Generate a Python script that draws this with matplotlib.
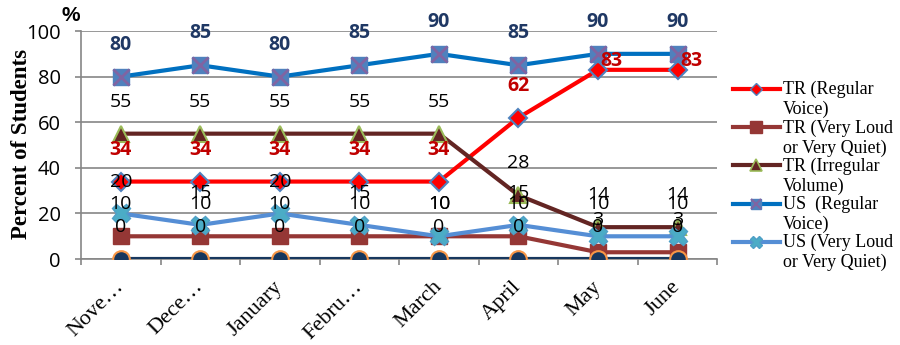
import numpy as np
import matplotlib
matplotlib.use("Agg")
import matplotlib.pyplot as plt
from matplotlib.lines import Line2D
from matplotlib.legend_handler import HandlerLine2D
from matplotlib.transforms import ScaledTranslation

# monthly percentages per group
months = ["Nove…", "Dece…", "January", "Febru…", "March", "April", "May", "June"]
tr_regular = [34, 34, 34, 34, 34, 62, 83, 83]
tr_loud_quiet = [10, 10, 10, 10, 10, 10, 3, 3]
tr_irregular = [55, 55, 55, 55, 55, 28, 14, 14]
us_regular = [80, 85, 80, 85, 90, 85, 90, 90]
us_loud_quiet = [20, 15, 20, 15, 10, 15, 10, 10]
us_irregular = [0, 0, 0, 0, 0, 0, 0, 0]

legend_labels = [
    "TR (Regular\nVoice)",
    "TR (Very Loud\nor Very Quiet)",
    "TR (Irregular\nVolume)",
    "US  (Regular\nVoice)",
    "US (Very Loud\nor Very Quiet)",
]

SERIF = "Liberation Serif"
SANS = "Open Sans"
GRID = "#868686"


class FirstLineHandler(HandlerLine2D):
    # put the legend line next to the first line of a two-line label
    def create_artists(self, legend, orig_handle, xdescent, ydescent,
                       width, height, fontsize, trans):
        return super().create_artists(legend, orig_handle, xdescent,
                                      ydescent - 1.2 * fontsize,
                                      width, height, fontsize, trans)


fig = plt.figure(figsize=(9, 3.45), dpi=100)
ax = fig.add_axes([0.09, 0.249, 0.707, 0.661])
x = np.arange(len(months))

ax.plot(x, tr_regular, color="#FF0000", lw=3, marker="D", ms=9,
        mfc="#FF0000", mec="#4F81BD", mew=1.5, zorder=3)
ax.plot(x, tr_loud_quiet, color="#953735", lw=3, marker="s", ms=12,
        mfc="#953735", mec="#953735", zorder=3)
ax.plot(x, tr_irregular, color="#632523", lw=3, marker="^", ms=12,
        mfc="#632523", mec="#9BBB59", mew=1.5, zorder=3)
ax.plot(x, us_regular, color="#0070C0", lw=3, marker="s", ms=12,
        mfc="#4F81BD", mec="#4F81BD", zorder=3)
ax.plot(x, us_regular, ls="none", marker="x", ms=11, mew=2,
        color="#8064A2", zorder=3)
ax.plot(x, us_loud_quiet, color="#558ED5", lw=3, marker="X", ms=13,
        mfc="#4BACC6", mec="#4F9FC6", zorder=3)
ax.plot(x, us_irregular, color="#17375E", lw=3, marker="o", ms=12,
        mfc="#17375E", mec="#F79646", mew=1.5, zorder=3)

# value labels above each point
def put_labels(values, color, weight="normal", dx=0, dy=23):
    for xi, v in zip(x, values):
        ax.annotate(str(v), (xi, v), xytext=(dx, dy), textcoords="offset points",
                    ha="center", va="center", fontsize=14, family=SANS,
                    color=color, fontweight=weight, zorder=10,
                    annotation_clip=False)

put_labels(tr_regular[:6], "#C00000", "bold")
for xi in range(6, 8):
    ax.annotate(str(tr_regular[xi]), (xi, tr_regular[xi]), xytext=(10, 6),
                textcoords="offset points", ha="center", va="center",
                fontsize=14, family=SANS, color="#C00000", fontweight="bold",
                zorder=10)
put_labels(tr_loud_quiet, "black")
put_labels(tr_irregular, "black")
put_labels(us_regular, "#1F3864", "bold")
put_labels(us_loud_quiet, "black")
put_labels(us_irregular, "black")

ax.set_xlim(-0.5, 7.5)
ax.set_ylim(0, 100)
ax.set_yticks(range(0, 101, 20))
ax.set_xticks(x)
ax.set_xticklabels(months, rotation=45, ha="right", va="center",
                   rotation_mode="anchor", family=SERIF, fontsize=16)
# shortened month names sit a bit further right
for lbl in ax.get_xticklabels():
    if "…" in lbl.get_text():
        lbl.set_transform(lbl.get_transform()
                          + ScaledTranslation(10 / 72, -2 / 72, fig.dpi_scale_trans))
ax.set_xticks(np.arange(-0.5, 8, 1), minor=True)
ax.tick_params(axis="x", which="major", length=0, pad=18)
ax.tick_params(axis="x", which="minor", length=4.5, width=1.2, color=GRID)
ax.tick_params(axis="y", length=4.5, width=1.2, color=GRID, pad=10,
               labelsize=14.5)
for lbl in ax.get_yticklabels():
    lbl.set_family(SANS)

ax.yaxis.grid(True, color=GRID, lw=1.2)
ax.set_axisbelow(True)
for side in ("top", "right"):
    ax.spines[side].set_visible(False)
for side in ("left", "bottom"):
    ax.spines[side].set_color(GRID)
    ax.spines[side].set_linewidth(1.2)

ax.set_ylabel("Percent of Students", family=SERIF, fontweight="bold", fontsize=16.5)
ax.yaxis.set_label_coords(-0.077, 0.504)
fig.text(0.079, 0.954, "%", ha="center", va="center", fontsize=15,
         fontweight="bold", family="Liberation Sans")

# legend proxies with smaller markers
h1 = Line2D([], [], color="#FF0000", lw=3, marker="D", ms=6, mfc="#FF0000",
            mec="#4F81BD", mew=1)
h2 = Line2D([], [], color="#953735", lw=3, marker="s", ms=8, mfc="#953735",
            mec="#953735")
h3 = Line2D([], [], color="#632523", lw=3, marker="^", ms=8, mfc="#632523",
            mec="#9BBB59", mew=1.2)
h4a = Line2D([], [], color="#0070C0", lw=3, marker="s", ms=7, mfc="#4F81BD",
             mec="#4F81BD")
h4b = Line2D([], [], ls="none", marker="x", ms=7, mew=1.5, color="#8064A2")
h5 = Line2D([], [], color="#558ED5", lw=3, marker="X", ms=8, mfc="#4BACC6",
            mec="#4F9FC6")

leg = fig.legend([h1, h2, h3, (h4a, h4b), h5], legend_labels,
                 loc="upper left", bbox_to_anchor=(0.814, 0.765),
                 frameon=False, prop={"family": SERIF, "size": 13},
                 handlelength=2.6, handletextpad=0.2, labelspacing=0.05,
                 borderpad=0, borderaxespad=0,
                 handler_map={Line2D: FirstLineHandler()})
for t in leg.get_texts():
    t.set_linespacing(1.2)

fig.savefig("out.png", dpi=100)
